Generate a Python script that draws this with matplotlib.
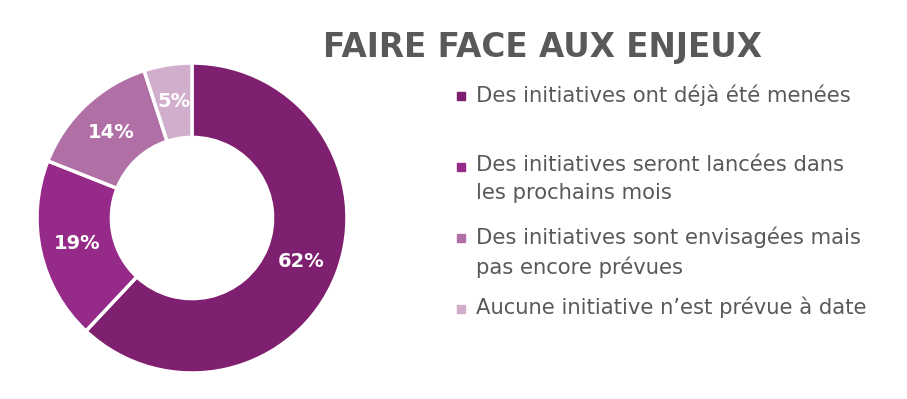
import matplotlib.pyplot as plt
from matplotlib.patches import Rectangle

# data
labels = ["Des initiatives ont déjà été menées",
          "Des initiatives seront lancées dans\nles prochains mois",
          "Des initiatives sont envisagées mais\npas encore prévues",
          "Aucune initiative n’est prévue à date"]
values = [62, 19, 14, 5]
colors = ["#7F1F70", "#952A88", "#B170A5", "#D1AECB"]
title = "FAIRE FACE AUX ENJEUX"

W, H = 907, 399
fig = plt.figure(figsize=(W / 100, H / 100), dpi=100)
plt.rcParams['font.family'] = ['DejaVu Sans']

# donut, centre ~ (192, 218) px, outer radius ~155 px
ax = fig.add_axes([37 / W, (H - 373) / H, 310 / W, 310 / H])
wedges, texts, autotexts = ax.pie(values, colors=colors, startangle=90, counterclock=False,
                                  autopct='%d%%', pctdistance=0.76,
                                  wedgeprops=dict(width=0.48, edgecolor='white', linewidth=2.5),
                                  textprops=dict(color='white', fontsize=14, fontweight='bold'))
ax.set_xlim(-1, 1)
ax.set_ylim(-1, 1)
ax.set_aspect('equal')
ax.axis('off')

fig.text(542 / W, 1 - 48 / H, title, ha='center', va='center',
         fontsize=23.5, fontweight='bold', color='#595959')

# legend, hand placed (first row has extra space below it)
rows_y = [96, 167, 238, 309]
for lab, col, y in zip(labels, colors, rows_y):
    fig.patches.append(Rectangle((457 / W, 1 - (y + 4) / H), 8 / W, 8 / H,
                                 transform=fig.transFigure, color=col))
    fig.text(476 / W, 1 - (y - 12) / H, lab, ha='left', va='top',
             fontsize=15.2, color='#595959', linespacing=1.5)

fig.savefig('out.png', dpi=100)
